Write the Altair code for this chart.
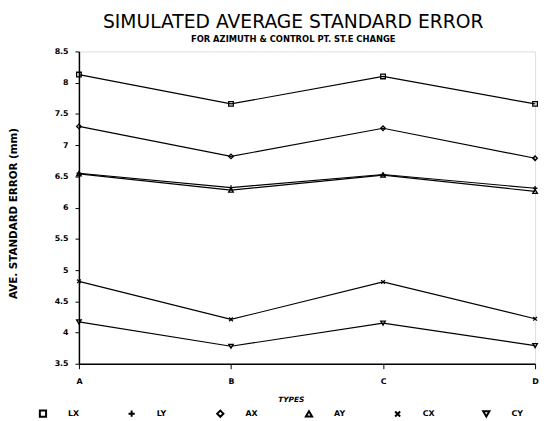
import altair as alt
import pandas as pd

types = ["A", "B", "C", "D"]
series = ["LX", "LY", "AX", "AY", "CX", "CY"]
lx = [8.13, 7.66, 8.10, 7.66]
ly = [6.55, 6.32, 6.53, 6.31]
ax = [7.30, 6.82, 7.27, 6.79]
ay = [6.54, 6.28, 6.52, 6.26]
cx = [4.82, 4.21, 4.81, 4.22]
cy = [4.17, 3.78, 4.15, 3.79]
y_ticks = [3.5, 4, 4.5, 5, 5.5, 6, 6.5, 7, 7.5, 8, 8.5]

vals = {"LX": lx, "LY": ly, "AX": ax, "AY": ay, "CX": cx, "CY": cy}
rows = []
for s in series:
    for t, v in zip(types, vals[s]):
        rows.append({"type": t, "series": s, "value": v})
df = pd.DataFrame(rows)

shapes = [
    "square",
    "M-1,0L1,0M0,-1L0,1",
    "diamond",
    "triangle-up",
    "M-0.8,-0.8L0.8,0.8M0.8,-0.8L-0.8,0.8",
    "triangle-down",
]

FONT = "DejaVu Sans"

x_enc = alt.X(
    "type:N",
    scale=alt.Scale(type="point", padding=0, domain=types),
    axis=alt.Axis(
        title="TYPES",
        titleFont=FONT,
        titleFontSize=7.5,
        titleFontWeight="bold",
        titleFontStyle="italic",
        titleColor="black",
        titleX=215,
        titleY=36,
        titleBaseline="middle",
        labelFont=FONT,
        labelFontSize=8,
        labelFontWeight="bold",
        labelColor="black",
        labelPadding=9,
        labelAngle=0,
        tickSize=5,
        tickColor="black",
        domainColor="black",
        domainWidth=1.5,
    ),
)
y_enc = alt.Y(
    "value:Q",
    scale=alt.Scale(domain=[3.5, 8.5], nice=False, zero=False),
    axis=alt.Axis(
        title="AVE. STANDARD ERROR (mm)",
        titleFont=FONT,
        titleFontSize=10.5,
        titleFontWeight="bold",
        titleColor="black",
        titleX=-66,
        titleY=164,
        titleAngle=-90,
        titleAlign="center",
        titleBaseline="middle",
        values=y_ticks,
        format="~g",
        labelOverlap=False,
        labelFont=FONT,
        labelFontSize=8,
        labelFontWeight="bold",
        labelColor="black",
        labelPadding=7,
        tickSize=4,
        tickColor="black",
        domainColor="black",
        domainWidth=1.5,
        grid=False,
    ),
)

base = alt.Chart(df).encode(x=x_enc, y=y_enc)
lines = base.mark_line(color="black", strokeWidth=1.2).encode(detail="series:N")
points = base.mark_point(color="black", filled=False, size=22, strokeWidth=1.3, opacity=1).encode(
    shape=alt.Shape(
        "series:N",
        scale=alt.Scale(domain=series, range=shapes),
        sort=series,
        legend=alt.Legend(
            title=None,
            orient="none",
            legendX=-41,
            legendY=363,
            direction="horizontal",
            columns=6,
            gridAlign="all",
            columnPadding=44,
            labelOffset=21,
            symbolSize=40,
            symbolStrokeWidth=2,
            symbolStrokeColor="black",
            labelFont=FONT,
            labelFontSize=8,
            labelFontWeight="bold",
            labelColor="black",
        ),
    ),
)

chart = (
    alt.layer(lines, points)
    .properties(
        width=463,
        height=317,
        title=alt.TitleParams(
            text="SIMULATED AVERAGE STANDARD ERROR",
            subtitle="FOR AZIMUTH & CONTROL PT. ST.E CHANGE",
            font=FONT,
            fontSize=19,
            fontWeight="normal",
            color="black",
            subtitleFont=FONT,
            subtitleFontSize=8.5,
            subtitleFontWeight="bold",
            subtitleColor="black",
            subtitlePadding=3,
            anchor="middle",
            dx=-14,
            offset=4,
        ),
        autosize=alt.AutoSizeParams(type="none"),
        padding={"left": 72, "top": 41, "right": 5, "bottom": 55},
    )
    .configure_view(stroke="black", strokeWidth=1)
    .configure(background="white")
)

chart.save("out.html", embed_options={"renderer": "svg", "actions": False})
